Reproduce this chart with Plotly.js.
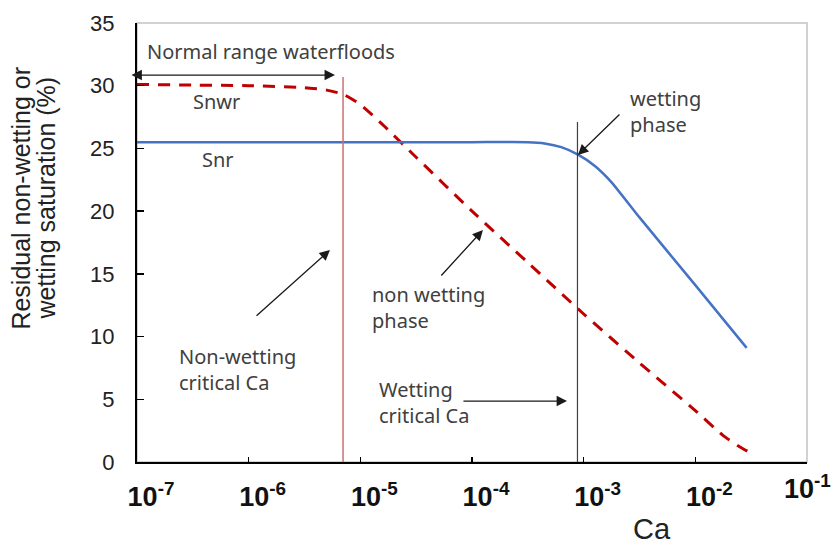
<!DOCTYPE html>
<html>
<head>
<meta charset="utf-8">
<script src="https://cdn.plot.ly/plotly-3.0.1.min.js"></script>
<style>html,body{margin:0;padding:0;background:#fff;}#chart{width:834px;height:547px;}</style>
</head>
<body>
<div id="chart"></div>
<script>
// ---- Data ----
const caSnwr = [1e-7, 3.16e-7, 1e-6, 3.16e-6, 5.01e-6, 7.08e-6, 1e-5, 1.585e-5, 3.16e-5, 1e-4, 3.16e-4, 1e-3, 3.16e-3, 1e-2, 1.778e-2, 2.51e-2, 2.95e-2];
const snwr   = [30.1, 30.05, 30.0, 29.85, 29.65, 29.3, 28.5, 26.9, 24.3, 20.0, 15.9, 11.8, 7.9, 4.1, 2.1, 1.2, 0.85];

const caSnr = [1e-7, 1e-5, 1e-4, 3.16e-4, 4.47e-4, 6.31e-4, 8.91e-4, 1.26e-3, 1.778e-3, 3.16e-3, 1e-2, 2.88e-2];
const snr   = [25.5, 25.5, 25.5, 25.5, 25.4, 25.1, 24.5, 23.6, 22.3, 19.5, 14.1, 9.1];

// critical capillary numbers (vertical markers) and their vertical extent
const criticalCa    = [7e-6, 8.8e-4];
const criticalTop   = [30.7, 27.1];
const criticalBot   = [-0.2, 0];

const xTickVals = [1e-7, 1e-6, 1e-5, 1e-4, 1e-3, 1e-2, 1e-1];
const xTickText = ['10<sup>-7</sup>', '10<sup>-6</sup>', '10<sup>-5</sup>', '10<sup>-4</sup>', '10<sup>-3</sup>', '10<sup>-2</sup>', ''];
const lastTickText = '10<sup>-1</sup>';
const yTickVals = [0, 5, 10, 15, 20, 25, 30, 35];

// labels: [text, log10 x, y]
const labels = [
  ['Normal range waterfloods', -6.928, 32.69],
  ['Non-wetting<br>critical Ca', -6.642, 7.41],
  ['non wetting<br>phase', -4.913, 12.32],
  ['Wetting<br>critical Ca', -4.851, 4.78],
  ['wetting<br>phase', -2.603, 27.98]
];
const curveLabels = [
  ['Snwr', -6.284, 28.78],
  ['Snr', -6.275, 24.08]
];
// arrows: [head log10 x, head y, tail log10 x, tail y, both ends]
const arrows = [
  [-5.227, 30.85, -7.063, 30.85, true],
  [-5.272, 16.9, -5.943, 11.56, false],
  [-3.902, 18.5, -4.287, 14.75, false],
  [-3.051, 24.48, -2.666, 27.82, false],
  [-3.149, 4.86, -4.090, 4.86, false]
];

const traces = [
  {x: caSnwr, y: snwr, type: 'scatter', mode: 'lines', name: 'Snwr',
   line: {color: '#C00000', width: 3, dash: '12px,9px', shape: 'spline', smoothing: 0.5}},
  {x: caSnr, y: snr, type: 'scatter', mode: 'lines', name: 'Snr',
   line: {color: '#4472C4', width: 2.5, shape: 'spline', smoothing: 0.5}}
];

const txtFont = {family: 'Noto Sans, sans-serif', size: 20, color: '#404040'};
const annotations = [];
labels.forEach(l => annotations.push({x: l[1], y: l[2], xref: 'x', yref: 'y', text: l[0], showarrow: false,
  xanchor: 'left', yanchor: 'middle', align: 'left', font: txtFont}));
curveLabels.forEach(l => annotations.push({x: l[1], y: l[2], xref: 'x', yref: 'y', text: l[0], showarrow: false,
  xanchor: 'center', yanchor: 'middle', font: txtFont}));
arrows.forEach(a => annotations.push({x: a[0], y: a[1], ax: a[2], ay: a[3], xref: 'x', yref: 'y', axref: 'x', ayref: 'y',
  text: '', showarrow: true, arrowhead: 2, arrowsize: 1.6, arrowwidth: 1.3, arrowcolor: '#1a1a1a',
  arrowside: a[4] ? 'end+start' : 'end', standoff: 0, startstandoff: 0}));
// last decade label and axis title (paper coords, below the plot)
annotations.push({x: 1.0, y: -0.057, xref: 'paper', yref: 'paper', text: lastTickText, showarrow: false,
  xanchor: 'center', yanchor: 'middle', font: {family: 'Liberation Sans, Arial, sans-serif', size: 27, color: '#111', weight: 'bold'}});
annotations.push({x: 0.7687, y: -0.1526, xref: 'paper', yref: 'paper', text: 'Ca', showarrow: false,
  xanchor: 'center', yanchor: 'middle', font: {family: 'Liberation Sans, Arial, sans-serif', size: 29, color: '#222'}});
// y title (two lines)
const yTitle = ['Residual non-wetting or', 'wetting saturation (%)'];
const yTitleX = [-0.1731, -0.1358];
yTitle.forEach((t, i) => annotations.push({x: yTitleX[i], y: 0.6, xref: 'paper', yref: 'paper', text: t, showarrow: false,
  textangle: -90, xanchor: 'center', yanchor: 'middle',
  font: {family: 'Liberation Sans, Arial, sans-serif', size: 25, color: '#222'}}));

const shapes = [
  {type: 'rect', xref: 'paper', yref: 'paper', x0: 0, x1: 1, y0: 0, y1: 1, line: {color: '#c4c4c4', width: 1.5}, layer: 'below'},
  {type: 'line', xref: 'x', yref: 'y', x0: criticalCa[0], x1: criticalCa[0], y0: criticalBot[0], y1: criticalTop[0],
   line: {color: '#cc7070', width: 1.5}},
  {type: 'line', xref: 'x', yref: 'y', x0: criticalCa[1], x1: criticalCa[1], y0: criticalBot[1], y1: criticalTop[1],
   line: {color: '#404040', width: 1.2}}
];

const layout = {
  width: 834, height: 547,
  margin: {l: 137, r: 27, t: 23, b: 85},
  paper_bgcolor: '#fff', plot_bgcolor: '#fff',
  showlegend: false,
  xaxis: {type: 'log', range: [-7, -1], tickvals: xTickVals, ticktext: xTickText,
    ticks: 'inside', ticklen: 5, tickwidth: 1.5, tickcolor: '#000',
    showline: true, linecolor: '#000', linewidth: 2, showgrid: false, zeroline: false,
    tickfont: {family: 'Liberation Sans, Arial, sans-serif', size: 27, color: '#111', weight: 'bold'},
    ticklabelshift: 14, ticklabelstandoff: 10},
  yaxis: {range: [0, 35], tickvals: yTickVals, ticks: 'inside', ticklen: 7, tickwidth: 1.5, tickcolor: '#000',
    showline: true, linecolor: '#000', linewidth: 2, showgrid: false, zeroline: false,
    tickfont: {family: 'Liberation Sans, Arial, sans-serif', size: 22, color: '#222'},
    ticklabelstandoff: 16},
  annotations: annotations,
  shapes: shapes
};

Plotly.newPlot('chart', traces, layout, {staticPlot: true, displayModeBar: false});
</script>
</body>
</html>
